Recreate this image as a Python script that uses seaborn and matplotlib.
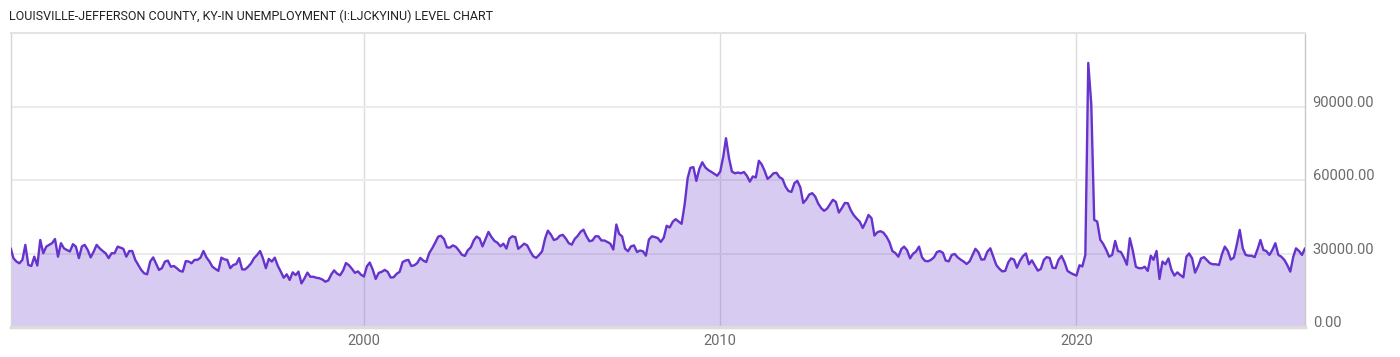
import numpy as np
import pandas as pd
import matplotlib
matplotlib.use("Agg")
import matplotlib.pyplot as plt
import seaborn as sns

# ---- data (unemployed persons, thousands), monthly ----
title = "LOUISVILLE-JEFFERSON COUNTY, KY-IN UNEMPLOYMENT (I:LJCKYINU) LEVEL CHART"
start_month = "1990-02-01"

v1990 = [32.2, 28.2, 26.8, 26.1, 27.5, 33.6, 25.4, 25.0, 28.8, 25.2, 35.6]
v1991 = [30.2, 32.9, 33.6, 34.3, 36.0, 28.8, 34.3, 32.2, 31.5, 30.9, 33.9, 32.9]
v1992 = [28.2, 33.0, 33.6, 31.5, 28.5, 30.9, 33.6, 32.2, 31.1, 30.2, 28.2, 30.2]
v1993 = [30.2, 32.9, 32.5, 32.0, 28.8, 31.1, 31.1, 27.5, 25.4, 23.4, 22.0, 21.6]
v1994 = [26.8, 28.5, 26.1, 23.4, 24.1, 26.8, 27.2, 24.7, 25.0, 24.1, 23.0, 22.7]
v1995 = [27.0, 26.8, 26.1, 27.5, 27.5, 28.4, 31.1, 28.5, 26.8, 24.7, 23.8, 23.0]
v1996 = [28.4, 27.7, 27.5, 24.1, 25.4, 25.8, 28.2, 23.6, 23.6, 24.7, 26.1, 28.2]
v1997 = [29.5, 31.1, 28.2, 24.1, 27.9, 26.8, 28.4, 25.1, 22.7, 20.2, 21.6, 19.3]
v1998 = [22.4, 21.3, 22.7, 17.9, 19.9, 22.3, 20.6, 20.6, 20.2, 20.0, 19.5, 18.6]
v1999 = [19.1, 21.6, 23.2, 21.9, 21.2, 23.1, 26.2, 25.3, 23.8, 22.2, 22.8, 21.5]
v2000 = [20.7, 24.9, 26.4, 23.5, 19.7, 22.2, 22.6, 23.4, 22.6, 20.3, 20.4, 21.8]
v2001 = [22.6, 26.6, 27.2, 27.5, 25.0, 25.3, 26.2, 28.3, 27.2, 26.6, 30.3, 32.2]
v2002 = [34.5, 37.0, 37.3, 36.0, 32.6, 32.5, 33.4, 32.8, 31.3, 29.6, 29.1, 31.4]
v2003 = [32.6, 35.5, 37.0, 36.2, 33.0, 36.0, 38.9, 36.8, 35.2, 34.5, 33.0, 34.1]
v2004 = [32.1, 36.2, 37.1, 36.8, 32.0, 33.0, 34.1, 33.4, 31.0, 29.0, 28.3, 29.5]
v2005 = [31.0, 36.3, 39.4, 37.8, 35.6, 36.0, 37.3, 37.7, 36.2, 34.3, 33.7, 36.0]
v2006 = [37.3, 39.0, 39.8, 37.1, 35.1, 35.4, 37.1, 37.1, 35.4, 35.4, 34.8, 34.1]
v2007 = [31.7, 41.9, 38.1, 37.1, 32.1, 31.0, 33.0, 33.4, 30.7, 31.3, 31.0, 29.2]
v2008 = [35.8, 37.1, 36.8, 36.4, 34.8, 36.5, 41.4, 40.7, 43.0, 44.1, 43.1, 42.2]
v2009 = [50.0, 60.8, 65.0, 65.3, 59.7, 64.6, 67.3, 65.2, 64.1, 63.4, 62.6, 61.8]
v2010 = [63.5, 69.6, 77.1, 69.0, 63.5, 62.8, 63.1, 62.8, 63.3, 61.8, 59.4, 61.5]
v2011 = [61.1, 67.9, 66.5, 63.8, 60.5, 61.5, 62.8, 63.0, 61.2, 60.5, 57.4, 55.6]
v2012 = [55.2, 58.8, 59.7, 57.1, 50.7, 52.1, 54.1, 54.7, 53.3, 50.5, 48.6, 47.5]
v2013 = [48.4, 50.3, 52.0, 51.1, 46.8, 48.6, 50.7, 50.6, 47.7, 45.7, 44.3, 43.1]
v2014 = [40.5, 43.0, 45.8, 44.5, 37.4, 38.8, 39.2, 38.6, 37.0, 34.8, 31.1, 30.3]
v2015 = [28.8, 31.9, 32.9, 31.4, 28.1, 30.0, 30.9, 32.9, 28.5, 27.1, 26.9, 27.5]
v2016 = [28.5, 30.7, 31.1, 30.4, 27.2, 26.9, 29.5, 29.9, 28.5, 27.6, 26.8, 25.8]
v2017 = [26.9, 29.6, 32.0, 30.6, 27.6, 27.7, 30.8, 32.2, 28.8, 25.4, 23.9, 22.8]
v2018 = [23.0, 26.5, 28.1, 27.6, 24.3, 27.1, 29.0, 30.1, 25.7, 27.3, 25.2, 23.1]
v2019 = [23.8, 27.5, 28.6, 28.3, 24.3, 24.1, 27.5, 29.1, 26.5, 23.0, 22.2, 21.6]
v2020 = [21.1, 25.3, 24.8, 29.5, 107.8, 91.0, 43.8, 43.1, 35.7, 34.0, 31.6, 28.8]
v2021 = [29.5, 35.2, 31.1, 30.7, 28.4, 25.5, 36.3, 31.2, 24.7, 24.1, 24.1, 24.7]
v2022 = [23.0, 29.2, 27.5, 31.1, 19.7, 26.8, 25.7, 28.1, 23.4, 21.1, 22.4, 21.3]
v2023 = [20.4, 28.8, 30.1, 28.1, 22.3, 24.9, 28.1, 28.6, 27.3, 26.1, 25.7, 25.7]
v2024 = [25.4, 29.9, 32.9, 31.1, 27.6, 28.4, 33.6, 39.7, 32.2, 29.5, 29.2, 29.2]
v2025 = [28.6, 32.0, 35.6, 31.5, 31.1, 29.5, 31.5, 34.3, 29.5, 28.8, 27.5, 25.4]
v2026 = [22.7, 28.8, 32.2, 31.1, 29.5, 32.2]

yticks = [0, 30000, 60000, 90000]
xtick_years = [2000, 2010, 2020]

years_data = [v1990, v1991, v1992, v1993, v1994, v1995, v1996, v1997, v1998,
              v1999, v2000, v2001, v2002, v2003, v2004, v2005, v2006, v2007,
              v2008, v2009, v2010, v2011, v2012, v2013, v2014, v2015, v2016,
              v2017, v2018, v2019, v2020, v2021, v2022, v2023, v2024, v2025,
              v2026]
values = np.concatenate([np.asarray(v, float) for v in years_data]) * 1000.0
dates = pd.date_range(start_month, periods=len(values), freq="MS")
df = pd.DataFrame({"date": dates, "value": values})

# ---- style ----
sns.set_theme(style="white")
plt.rcParams["font.family"] = ["Roboto", "DejaVu Sans"]

line_color = "#6633cc"
fig = plt.figure(figsize=(14, 3.57), dpi=100)
ax = fig.add_axes([10.7 / 1400, 1 - 327.3 / 357, (1305 - 10.7) / 1400, (327.3 - 33) / 357])

ax.fill_between(df["date"], df["value"], 0, color=line_color, alpha=0.25, lw=0, zorder=1)
sns.lineplot(data=df, x="date", y="value", ax=ax, color=line_color, linewidth=1.7, zorder=3)

ax.set_xlim(df["date"].iloc[0], df["date"].iloc[-1])
ax.set_ylim(0, 120000)

ax.set_yticks(yticks)
ax.set_yticklabels([f"{t:.2f}" for t in yticks])
ax.yaxis.tick_right()
ax.set_xticks([pd.Timestamp(f"{y}-01-01") for y in xtick_years])
ax.set_xticklabels([str(y) for y in xtick_years])
ax.set_xlabel("")
ax.set_ylabel("")

ax.tick_params(axis="y", length=0, pad=5.5, labelsize=10.5, labelcolor="#6b6b6b")
ax.tick_params(axis="x", length=0, pad=4.5, labelsize=10.5, labelcolor="#6b6b6b")
plt.setp(ax.get_yticklabels(), va="baseline")

ax.set_axisbelow(True)
ax.grid(axis="y", color="#ebebeb", lw=1.5)
ax.grid(axis="x", color="#dcdcdc", lw=1.0)

for side, col, lw in [("left", "#d5d5d5", 1.0), ("top", "#e3e3e3", 1.5),
                      ("right", "#c8c8c8", 1.0), ("bottom", "#dcdcdc", 2.5)]:
    ax.spines[side].set_visible(True)
    ax.spines[side].set_color(col)
    ax.spines[side].set_linewidth(lw)

fig.text(9 / 1400, 1 - 16.2 / 357, title, ha="left", va="center",
         fontsize=9.0, color="#222222")

fig.savefig("out.png", dpi=100)
